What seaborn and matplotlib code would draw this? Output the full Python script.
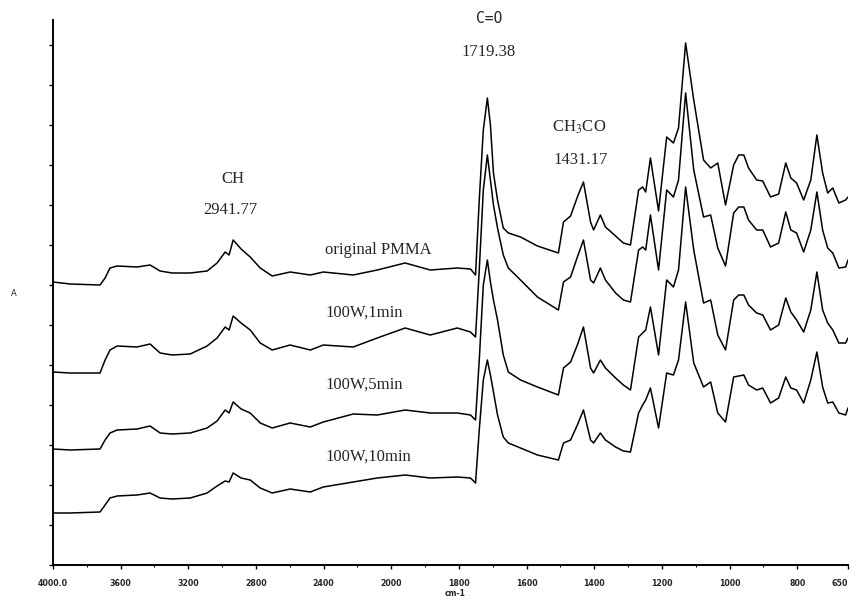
import numpy as np
import pandas as pd
import matplotlib
matplotlib.use("Agg")
import matplotlib.pyplot as plt
from matplotlib.ticker import FixedLocator, NullFormatter, MultipleLocator
import seaborn as sns

# wavenumber grid (cm-1) shared by all four spectra
wavenumber = [4000, 3899, 3722, 3692, 3663, 3621, 3503, 3426, 3367, 3296,
              3189, 3089, 3030, 2982, 2959, 2935, 2888, 2834, 2775, 2704,
              2598, 2479, 2402, 2225, 2083, 1959, 1885, 1805, 1766, 1751,
              1740, 1728, 1716, 1707, 1698, 1686, 1669, 1654, 1618, 1568,
              1506, 1491, 1470, 1450, 1432, 1411, 1402, 1382, 1367, 1337,
              1314, 1293, 1269, 1257, 1248, 1234, 1210, 1186, 1166, 1151,
              1130, 1106, 1077, 1056, 1035, 1012, 988, 973, 958, 944,
              920, 902, 879, 855, 834, 819, 802, 781, 760, 742,
              725, 710, 695, 677, 657, 650]

# absorbance (stacked as in the original figure)
a_original = [2.83, 2.81, 2.80, 2.87, 2.97, 2.99, 2.98, 3.00, 2.94, 2.92,
              2.92, 2.94, 3.02, 3.13, 3.10, 3.25, 3.16, 3.08, 2.97, 2.89,
              2.93, 2.90, 2.93, 2.90, 2.95, 3.02, 2.95, 2.97, 2.96, 2.90,
              3.65, 4.35, 4.67, 4.40, 3.92, 3.65, 3.37, 3.32, 3.28, 3.19,
              3.12, 3.43, 3.49, 3.68, 3.83, 3.43, 3.35, 3.50, 3.38, 3.29,
              3.22, 3.20, 3.75, 3.78, 3.73, 4.07, 3.54, 4.28, 4.22, 4.37,
              5.22, 4.65, 4.05, 3.97, 4.02, 3.60, 4.00, 4.10, 4.10, 3.97,
              3.85, 3.84, 3.68, 3.71, 4.02, 3.87, 3.82, 3.65, 3.85, 4.30,
              3.92, 3.72, 3.77, 3.62, 3.65, 3.68]

a_1min = [1.93, 1.92, 1.92, 2.05, 2.15, 2.19, 2.18, 2.21, 2.12, 2.10,
          2.11, 2.19, 2.27, 2.38, 2.35, 2.49, 2.42, 2.35, 2.22, 2.15,
          2.20, 2.15, 2.20, 2.18, 2.27, 2.37, 2.30, 2.37, 2.33, 2.28,
          2.95, 3.75, 4.10, 3.85, 3.60, 3.37, 3.10, 2.97, 2.85, 2.68,
          2.55, 2.83, 2.88, 3.08, 3.25, 2.85, 2.82, 2.97, 2.85, 2.72,
          2.65, 2.63, 3.15, 3.18, 3.15, 3.50, 2.95, 3.75, 3.68, 3.85,
          4.72, 3.95, 3.48, 3.50, 3.17, 2.99, 3.52, 3.58, 3.58, 3.45,
          3.35, 3.35, 3.18, 3.22, 3.53, 3.35, 3.32, 3.13, 3.35, 3.73,
          3.35, 3.17, 3.12, 2.97, 2.98, 3.05]

a_5min = [1.16, 1.15, 1.16, 1.25, 1.32, 1.35, 1.36, 1.39, 1.32, 1.31,
          1.32, 1.37, 1.44, 1.55, 1.52, 1.63, 1.56, 1.52, 1.42, 1.37,
          1.42, 1.38, 1.43, 1.51, 1.50, 1.55, 1.52, 1.52, 1.50, 1.45,
          2.05, 2.80, 3.05, 2.83, 2.65, 2.45, 2.10, 1.93, 1.85, 1.78,
          1.70, 1.97, 2.03, 2.20, 2.38, 1.97, 1.92, 2.05, 1.97, 1.87,
          1.80, 1.75, 2.28, 2.32, 2.35, 2.58, 2.10, 2.85, 2.78, 2.95,
          3.78, 3.15, 2.62, 2.65, 2.30, 2.15, 2.65, 2.70, 2.70, 2.60,
          2.52, 2.50, 2.35, 2.40, 2.67, 2.53, 2.45, 2.33, 2.55, 2.93,
          2.55, 2.42, 2.35, 2.22, 2.22, 2.27]

a_10min = [0.52, 0.52, 0.53, 0.60, 0.67, 0.69, 0.70, 0.72, 0.67, 0.66,
           0.67, 0.72, 0.79, 0.84, 0.83, 0.92, 0.87, 0.85, 0.77, 0.72,
           0.76, 0.73, 0.78, 0.83, 0.87, 0.90, 0.87, 0.88, 0.87, 0.82,
           1.35, 1.85, 2.05, 1.90, 1.73, 1.50, 1.28, 1.22, 1.17, 1.10,
           1.05, 1.22, 1.25, 1.40, 1.55, 1.25, 1.22, 1.32, 1.25, 1.18,
           1.14, 1.13, 1.52, 1.60, 1.65, 1.77, 1.37, 1.92, 1.90, 2.05,
           2.63, 2.02, 1.78, 1.83, 1.52, 1.43, 1.88, 1.89, 1.90, 1.80,
           1.75, 1.77, 1.62, 1.67, 1.88, 1.77, 1.75, 1.62, 1.85, 2.13,
           1.78, 1.62, 1.63, 1.52, 1.50, 1.57]

sample_names = ["original PMMA", "100W,1min", "100W,5min", "100W,10min"]
x_tick_values = [4000, 3600, 3200, 2800, 2400, 2000, 1800, 1600, 1400, 1200, 1000, 800, 650]
x_tick_labels = ["4000.0", "3600", "3200", "2800", "2400", "2000", "1800",
                 "1600", "1400", "1200", "1000", "800", "650"]

rows = []
for name, vals in zip(sample_names, [a_original, a_1min, a_5min, a_10min]):
    for w, a in zip(wavenumber, vals):
        rows.append({"wavenumber": w, "A": a, "sample": name})
df = pd.DataFrame(rows)


# spectrometer style axis: scale halves above 2000 cm-1
def fwd(w):
    w = np.asarray(w, dtype=float)
    return np.where(w > 2000, 2000 + (w - 2000) / 2.0, w)


def inv(u):
    u = np.asarray(u, dtype=float)
    return np.where(u > 2000, 2000 + (u - 2000) * 2.0, u)


sns.set_style("ticks")
plt.rcParams["mathtext.fontset"] = "stix"

fig = plt.figure(figsize=(8.54, 6.0), dpi=100)
ax = fig.add_axes([53 / 854, 35 / 600, 795 / 854, 545 / 600])

sns.lineplot(data=df, x="wavenumber", y="A", hue="sample", units="sample",
             estimator=None, palette=["black"] * 4, linewidth=1.1,
             legend=False, ax=ax)

ax.set_xscale("function", functions=(fwd, inv))
ax.set_xlim(4000, 650)
ax.set_ylim(0, 5.45)

ax.xaxis.set_major_locator(FixedLocator(x_tick_values))
ax.set_xticklabels(x_tick_labels, fontsize=5.7, fontweight="bold")
ax.get_xticklabels()[-1].set_ha("right")
minor_x = list(range(3800, 2000, -200)) + list(range(1900, 700, -100))
ax.xaxis.set_minor_locator(FixedLocator(minor_x))
ax.yaxis.set_major_locator(MultipleLocator(0.4))
ax.yaxis.set_major_formatter(NullFormatter())
ax.tick_params(axis="both", which="major", length=3, width=1, color="black", pad=7)
ax.tick_params(axis="both", which="minor", length=1.5, width=0.8, color="black")
ax.set_xlabel("")
ax.set_ylabel("")

for side in ["top", "right"]:
    ax.spines[side].set_visible(False)
for side in ["left", "bottom"]:
    ax.spines[side].set_linewidth(1.4)
    ax.spines[side].set_color("black")

serif = "Liberation Serif"
ax.text(2935, 3.86, "CH", ha="center", va="center", fontsize=12, family=serif)
ax.text(2950, 3.55, "2941.77", ha="center", va="center", fontsize=12, family=serif)
ax.text(1712, 5.47, "C=O", ha="center", va="center", fontsize=10.5, family="DejaVu Sans Mono")
ax.text(1712, 5.13, "1719.38", ha="center", va="center", fontsize=12, family=serif)
ax.text(1445, 4.38, "CH$_3$CO", ha="center", va="center", fontsize=12, family=serif)
ax.text(1440, 4.05, "1431.17", ha="center", va="center", fontsize=12, family=serif)

label_y = [3.15, 2.52, 1.80, 1.08]
for name, ly in zip(sample_names, label_y):
    ax.text(2391, ly, name, ha="left", va="center", fontsize=12, family=serif)

fig.text(14 / 854, 1 - 293 / 600, "A", fontsize=6, ha="center", va="center")
fig.text(455 / 854, 1 - 594 / 600, "cm-1", fontsize=5.5, fontweight="bold",
         ha="center", va="center")

fig.savefig("out.png", dpi=100)
